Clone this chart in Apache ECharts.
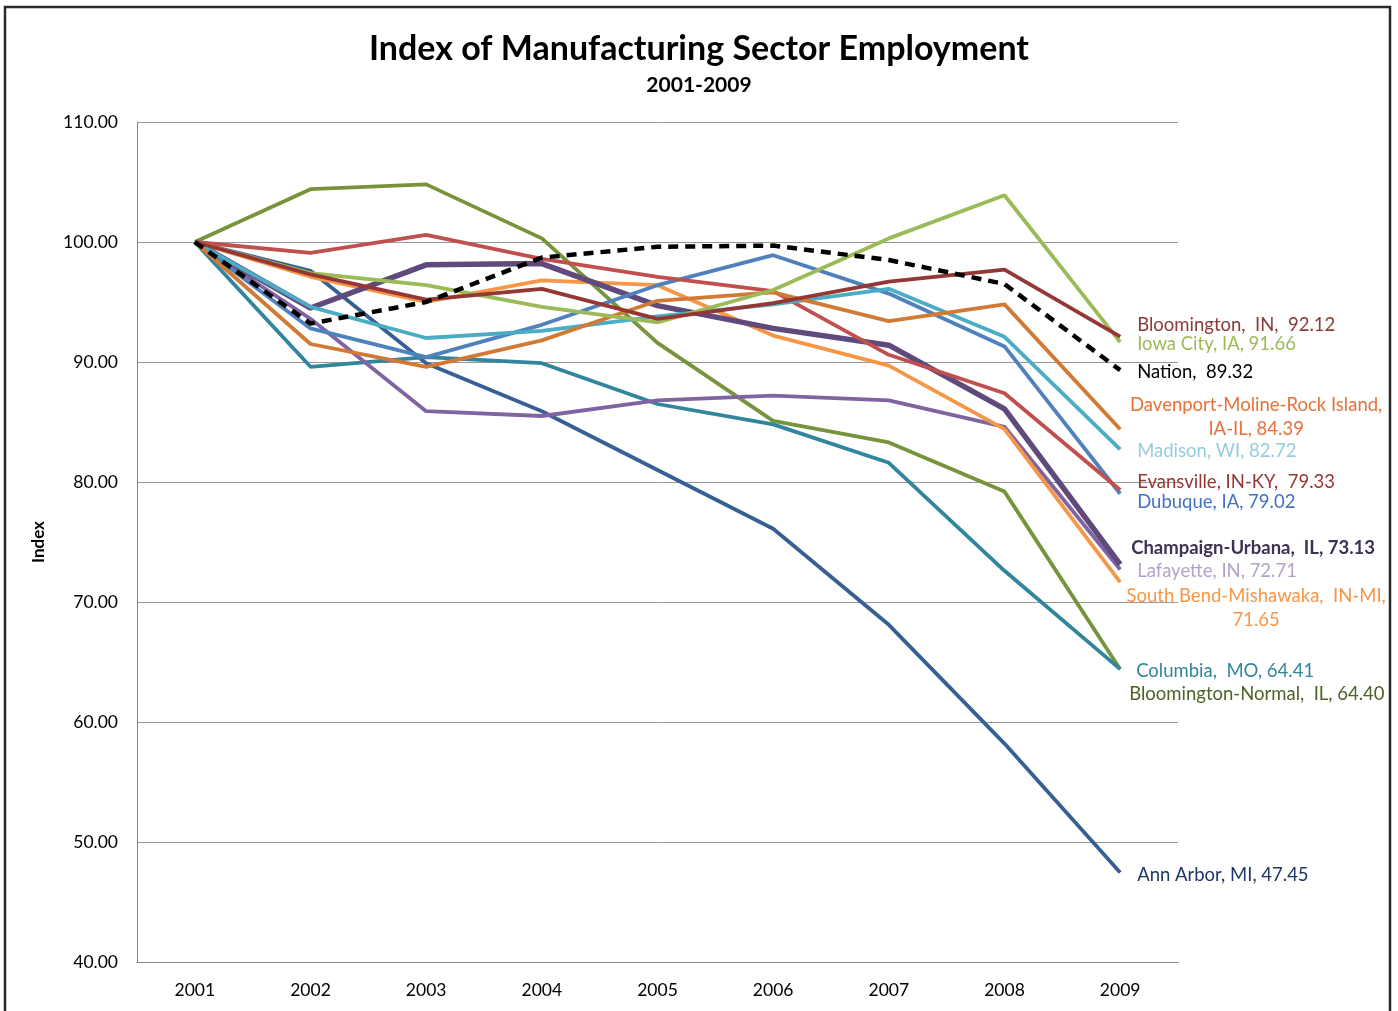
<!DOCTYPE html>
<html>
<head>
<meta charset="utf-8">
<script src="https://cdn.jsdelivr.net/npm/echarts@6/dist/echarts.min.js"></script>
<style>
html,body{margin:0;padding:0;background:#fff;}
#chart{width:1398px;height:1011px;}
</style>
</head>
<body>
<div id="chart"></div>
<script>
const years = ['2001','2002','2003','2004','2005','2006','2007','2008','2009'];
const yTicks = [40, 50, 60, 70, 80, 90, 100, 110];

const annArbor       = [100, 97.6, 89.9, 85.9, 81.0, 76.1, 68.1, 58.2, 47.45];
const bloomNormal    = [100, 104.4, 104.8, 100.3, 91.6, 85.1, 83.3, 79.2, 64.40];
const columbia       = [100, 89.6, 90.4, 89.9, 86.5, 84.8, 81.6, 72.6, 64.41];
const lafayette      = [100, 93.6, 85.9, 85.5, 86.8, 87.2, 86.8, 84.6, 72.71];
const southBend      = [100, 97.1, 95.0, 96.8, 96.4, 92.2, 89.7, 84.4, 71.65];
const champaign      = [100, 94.5, 98.1, 98.2, 94.7, 92.8, 91.4, 86.1, 73.13];
const dubuque        = [100, 92.8, 90.4, 93.1, 96.4, 98.9, 95.7, 91.3, 79.02];
const evansville     = [100, 99.1, 100.6, 98.6, 97.1, 95.9, 90.6, 87.4, 79.33];
const madison        = [100, 94.6, 92.0, 92.6, 93.8, 94.8, 96.1, 92.1, 82.72];
const davenport      = [100, 91.5, 89.6, 91.8, 95.1, 95.8, 93.4, 94.8, 84.39];
const iowaCity       = [100, 97.4, 96.4, 94.6, 93.3, 96.0, 100.3, 103.9, 91.66];
const bloomingtonIN  = [100, 97.3, 95.2, 96.1, 93.6, 94.9, 96.7, 97.7, 92.12];
const nation         = [100, 93.2, 95.0, 98.7, 99.6, 99.7, 98.5, 96.5, 89.32];

const labelFont = 'Lato, "Open Sans", sans-serif';

function mk(name, data, color, labelText, labelColor, opts) {
  opts = opts || {};
  return {
    name: name,
    type: 'line',
    data: data,
    symbol: 'none',
    smooth: false,
    z: opts.z || 2,
    lineStyle: {
      color: color,
      width: opts.width || 3.8,
      type: opts.type || 'solid'
    },
    itemStyle: { color: color },
    endLabel: {
      show: true,
      formatter: labelText,
      color: labelColor,
      fontFamily: labelFont,
      fontSize: 18.5,
      fontWeight: opts.bold ? 'bold' : 'normal',
      distance: 0,
      align: opts.align || 'left',
      lineHeight: 24,
      offset: opts.offset || [17, 0]
    },
    emphasis: { disabled: true }
  };
}

const series = [
  mk('Ann Arbor', annArbor, '#376092', 'Ann Arbor, MI, 47.45', '#1F3864', {offset: [17, 2]}),
  mk('Bloomington-Normal', bloomNormal, '#77933C', 'Bloomington-Normal,  IL, 64.40', '#4F6228', {offset: [9, 25]}),
  mk('Columbia', columbia, '#31859C', 'Columbia,  MO, 64.41', '#31859C', {offset: [16, 2]}),
  mk('Lafayette', lafayette, '#8064A2', 'Lafayette, IN, 72.71', '#B3A2C7', {offset: [17, 2]}),
  mk('South Bend', southBend, '#F79646', 'South Bend-Mishawaka,  IN-MI,\n71.65', '#F79646', {offset: [136, 26], align: 'center'}),
  mk('Champaign', champaign, '#604A7B', 'Champaign-Urbana,  IL, 73.13', '#3F3151', {offset: [11, -16], width: 5.5, bold: true}),
  mk('Dubuque', dubuque, '#4F81BD', 'Dubuque, IA, 79.02', '#4472C4', {offset: [17, 8]}),
  mk('Evansville', evansville, '#C0504D', 'Evansville, IN-KY,  79.33', '#953735', {offset: [17, -8]}),
  mk('Madison', madison, '#4BACC6', 'Madison, WI, 82.72', '#93CDDD', {offset: [17, 2]}),
  mk('Davenport', davenport, '#D17A35', 'Davenport-Moline-Rock Island,\nIA-IL, 84.39', '#E8703A', {offset: [136, -12], align: 'center'}),
  mk('Iowa City', iowaCity, '#9BBB59', 'Iowa City, IA, 91.66', '#9BBB59', {offset: [17, 2]}),
  mk('Bloomington IN', bloomingtonIN, '#953735', 'Bloomington,  IN,  92.12', '#8B3A3A', {offset: [17, -12]}),
  mk('Nation', nation, '#000000', 'Nation,  89.32', '#000000', {offset: [17, 2], width: 4.5, type: [10, 7], z: 5})
];

const chart = echarts.init(document.getElementById('chart'), null, {renderer: 'canvas'});
chart.setOption({
  animation: false,
  backgroundColor: '#ffffff',
  title: {
    text: 'Index of Manufacturing Sector Employment',
    subtext: '2001-2009',
    left: 'center',
    top: 27,
    itemGap: 9,
    textStyle: {
      fontFamily: labelFont,
      fontWeight: 'bold',
      fontSize: 34,
      color: '#000'
    },
    subtextStyle: {
      fontFamily: labelFont,
      fontWeight: 'bold',
      fontSize: 21,
      color: '#000'
    }
  },
  graphic: [{
    type: 'rect',
    shape: {x: 5, y: 7, width: 1385, height: 1008},
    style: {fill: 'none', stroke: '#2a2a2a', lineWidth: 2.5},
    silent: true,
    z: 100
  }],
  grid: {left: 137, right: 220, top: 122, bottom: 49, containLabel: false},
  xAxis: {
    type: 'category',
    data: years,
    boundaryGap: true,
    axisLine: {show: true, lineStyle: {color: '#888', width: 1}},
    axisTick: {show: false},
    axisLabel: {
      margin: 19,
      fontFamily: labelFont,
      fontSize: 17.5,
      color: '#000'
    },
    splitLine: {show: false}
  },
  yAxis: {
    type: 'value',
    min: yTicks[0],
    max: yTicks[yTicks.length - 1],
    interval: 10,
    name: 'Index',
    nameLocation: 'middle',
    nameRotate: 90,
    nameGap: 90,
    nameTextStyle: {
      fontFamily: labelFont,
      fontWeight: 'bold',
      fontSize: 17,
      color: '#000'
    },
    axisLine: {show: true, lineStyle: {color: '#888', width: 1}},
    axisTick: {show: false},
    axisLabel: {
      margin: 19,
      fontFamily: labelFont,
      fontSize: 17.5,
      color: '#000',
      formatter: function (v) { return v.toFixed(2); }
    },
    splitLine: {show: true, lineStyle: {color: '#999', width: 1}}
  },
  series: series
});
</script>
</body>
</html>
